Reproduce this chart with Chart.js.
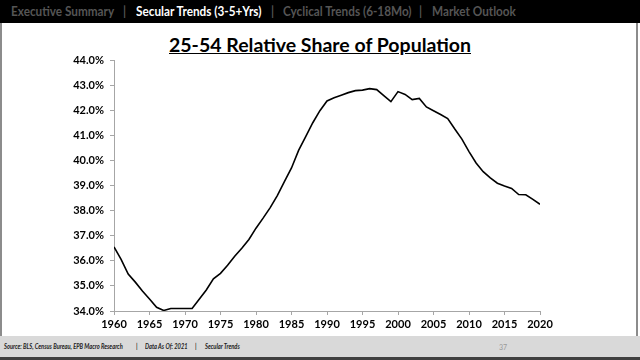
<!DOCTYPE html>
<html>
<head>
<meta charset="utf-8">
<script src="https://cdn.jsdelivr.net/npm/chart.js@4/dist/chart.umd.min.js"></script>
<style>
  html, body { margin: 0; padding: 0; background: #fff; }
  #page { position: relative; width: 640px; height: 360px; overflow: hidden; font-family: Lato, "Open Sans", sans-serif; }
  #nav { position: absolute; left: 0; top: 0; width: 640px; height: 23px; background: #000; color: #555; font-weight: bold; font-size: 14px; line-height: 23px; white-space: pre; }
  #nav span { position: absolute; top: -1px; transform: scaleX(0.84); transform-origin: left center; }
  #nav .on { color: #fff; }
  #frame { position: absolute; left: 0; top: 23px; width: 638px; height: 313px; border-left: 2px solid #8c8c8c; border-right: 2px solid #8c8c8c; box-sizing: border-box; }
  #title { position: absolute; left: 0; width: 640px; top: 33px; text-align: center; font-size: 19.5px; font-weight: bold; text-decoration: underline; color: #000; }
  #foot { position: absolute; left: 0; top: 336px; width: 640px; height: 24px; background: #d9d9d9; border-bottom: 3px solid #404040; box-sizing: border-box; font-size: 6.5px; font-style: italic; font-weight: bold; color: #222; }
  #foot span { position: absolute; top: 7px; white-space: pre; transform: scaleX(0.88); transform-origin: left center; }
  #chartBox { position: absolute; left: 0; top: 0; width: 640px; height: 360px; }
</style>
</head>
<body>
<div id="page">
  <div id="nav">
    <span style="left:11px">Executive Summary</span>
    <span style="left:123px">|</span>
    <span class="on" style="left:136px">Secular Trends (3-5+Yrs)</span>
    <span style="left:271px">|</span>
    <span style="left:283px">Cyclical Trends (6-18Mo)</span>
    <span style="left:419px">|</span>
    <span style="left:432px">Market Outlook</span>
  </div>
  <div id="frame"></div>
  <div id="title">25-54 Relative Share of Population</div>
  <div id="foot">
    <span style="left:4px">Source: BLS, Census Bureau, EPB Macro Research</span>
    <span style="left:136px">|</span>
    <span style="left:145px">Data As Of: 2021</span>
    <span style="left:195px">|</span>
    <span style="left:205px">Secular Trends</span>
    <span style="left:499px; top:6px; font-size:8px; color:#999; font-weight:normal; font-style:normal;">37</span>
  </div>
  <div id="chartBox"><canvas id="chart" width="640" height="360"></canvas></div>
</div>
<script>
const years = [
  1960, 1961, 1962, 1963, 1964, 1965, 1966, 1967, 1968, 1969,
  1970, 1971, 1972, 1973, 1974, 1975, 1976, 1977, 1978, 1979,
  1980, 1981, 1982, 1983, 1984, 1985, 1986, 1987, 1988, 1989,
  1990, 1991, 1992, 1993, 1994, 1995, 1996, 1997, 1998, 1999,
  2000, 2001, 2002, 2003, 2004, 2005, 2006, 2007, 2008, 2009,
  2010, 2011, 2012, 2013, 2014, 2015, 2016, 2017, 2018, 2019, 2020
];
const share = [
  36.55, 36.06, 35.47, 35.15, 34.80, 34.48, 34.15, 34.02, 34.10, 34.10,
  34.10, 34.10, 34.47, 34.84, 35.28, 35.50, 35.82, 36.18, 36.50, 36.85,
  37.30, 37.70, 38.12, 38.60, 39.15, 39.70, 40.40, 40.95, 41.50, 41.98,
  42.37, 42.50, 42.60, 42.70, 42.78, 42.80, 42.86, 42.82, 42.58, 42.34,
  42.74, 42.63, 42.42, 42.47, 42.13, 41.98, 41.83, 41.67, 41.25, 40.85,
  40.35, 39.90, 39.55, 39.30, 39.09, 38.98, 38.88, 38.64, 38.63, 38.45, 38.25
];
const yMin = 34, yMax = 44;
const xMin = 1960, xMax = 2020;

const points = years.map((y, i) => ({ x: y, y: share[i] }));
const tickFont = { family: "Lato, 'Open Sans', sans-serif", size: 11, weight: "bold" };

new Chart(document.getElementById("chart").getContext("2d"), {
  type: "line",
  data: {
    datasets: [{
      data: points,
      borderColor: "#000",
      borderWidth: 1.6,
      pointRadius: 0,
      tension: 0,
      fill: false
    }]
  },
  options: {
    responsive: false,
    animation: false,
    layout: { padding: { left: 0, top: 60, right: 100, bottom: 0 } },
    plugins: { legend: { display: false }, tooltip: { enabled: false } },
    scales: {
      x: {
        type: "linear",
        min: xMin,
        max: xMax,
        afterFit: s => { s.height = 49; },
        grid: { drawOnChartArea: false, drawTicks: true, tickLength: 4, color: "#a6a6a6" },
        border: { color: "#a6a6a6", width: 1 },
        ticks: { stepSize: 5, color: "#000", font: tickFont, padding: 3, maxRotation: 0, callback: v => String(v) }
      },
      y: {
        min: yMin,
        max: yMax,
        afterFit: s => { s.width = 114; },
        grid: { drawOnChartArea: false, drawTicks: true, tickLength: 4, color: "#a6a6a6" },
        border: { color: "#a6a6a6", width: 1 },
        ticks: { stepSize: 1, color: "#000", font: tickFont, padding: 6, callback: v => v.toFixed(1) + "%" }
      }
    }
  }
});
</script>
</body>
</html>
